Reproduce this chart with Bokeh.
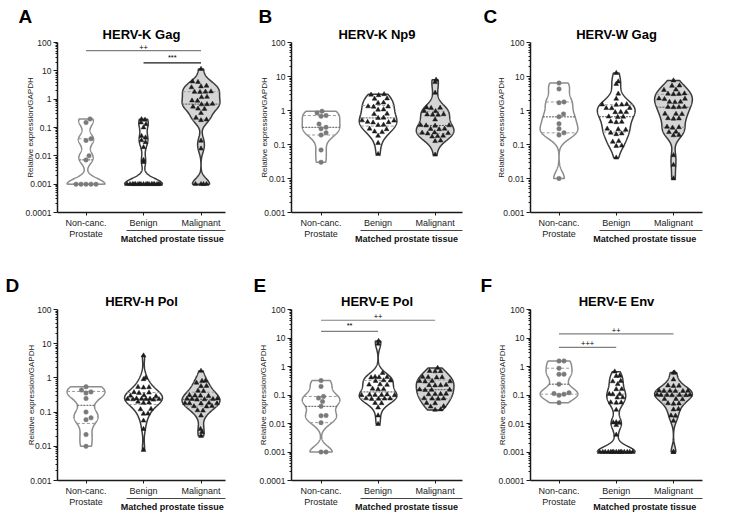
import numpy as np
from bokeh.plotting import figure
from bokeh.layouts import row, column
from bokeh.models import FixedTicker, CustomJSTickFormatter, LinearAxis, Range1d, Title
from bokeh.core.properties import value
from bokeh.embed import file_html
from bokeh.resources import INLINE

# ---------------- data ----------------
categories = ["Non-canc.", "Benign", "Malignant"]
category_second_line = "Prostate"
group_label = "Matched prostate tissue"
y_label = "Relative expression/GAPDH"
y_major_ticks = [1e-4, 1e-3, 1e-2, 1e-1, 1, 10, 100]

titles = ["HERV-K Gag", "HERV-K Np9", "HERV-W Gag", "HERV-H Pol", "HERV-E Pol", "HERV-E Env"]
letters = ["A", "B", "C", "D", "E", "F"]
y_min = [1e-4, 1e-3, 1e-3, 1e-3, 1e-4, 1e-4]

nc_A = [0.20, 0.15, 0.040, 0.035, 0.010, 0.0072, 0.001, 0.001, 0.001, 0.001, 0.001]
be_A = [0.195, 0.186, 0.15, 0.13, 0.10, 0.050, 0.044, 0.035, 0.030, 0.020, 0.0071, 0.006] + [0.001] * 18
ma_A = [11.5, 4.2, 4.0, 2.95, 2.8, 2.6, 1.8, 1.78, 1.82, 1.86, 1.2, 1.17, 0.87, 0.89, 0.66, 0.68,
        0.65, 0.54, 0.45, 0.46, 0.32, 0.22, 0.18, 0.19, 0.034, 0.018, 0.001, 0.001, 0.001, 0.001]

nc_B = [0.85, 0.95, 0.68, 0.71, 0.40, 0.32, 0.29, 0.22, 0.19, 0.069, 0.030]
be_B = [2.9, 3.0, 2.8, 2.25, 2.2, 1.65, 1.7, 1.3, 1.32, 1.28, 1.07, 1.05, 0.80, 0.78, 0.60, 0.61,
        0.50, 0.51, 0.45, 0.44, 0.46, 0.38, 0.37, 0.29, 0.28, 0.23, 0.24, 0.18, 0.11, 0.052]
ma_B = [8.0, 6.8, 3.3, 1.2, 1.22, 1.18, 0.95, 0.96, 0.76, 0.75, 0.77, 0.74, 0.54, 0.37, 0.36, 0.365,
        0.355, 0.29, 0.28, 0.285, 0.22, 0.215, 0.225, 0.21, 0.175, 0.17, 0.18, 0.13, 0.125, 0.050]

nc_C = [6.4, 4.3, 1.7, 1.78, 0.79, 0.65, 0.41, 0.29, 0.22, 0.19, 0.010]
be_C = [12.6, 7.1, 6.0, 3.1, 2.2, 1.48, 1.5, 1.46, 1.52, 1.17, 1.18, 1.16, 0.89, 0.9, 0.88, 0.65,
        0.64, 0.66, 0.46, 0.45, 0.47, 0.28, 0.27, 0.29, 0.21, 0.2, 0.22, 0.12, 0.125, 0.09, 0.092, 0.041]
ma_C = [7.6, 5.4, 5.3, 4.1, 4.0, 3.1, 3.05, 3.15, 3.0, 2.2, 2.15, 2.25, 1.78, 1.8, 1.75, 1.26, 1.25,
        1.27, 1.24, 0.79, 0.8, 0.78, 0.58, 0.57, 0.59, 0.32, 0.33, 0.31, 0.235, 0.23, 0.19, 0.185,
        0.048, 0.025, 0.010]

nc_D = [0.55, 0.44, 0.39, 0.36, 0.25, 0.10, 0.068, 0.060, 0.022, 0.010]
be_D = [4.5, 0.91, 1.0, 0.53, 0.52, 0.54, 0.37, 0.38, 0.36, 0.30, 0.31, 0.29, 0.24, 0.245, 0.235,
        0.24, 0.25, 0.23, 0.238, 0.242, 0.19, 0.2, 0.185, 0.123, 0.12, 0.089, 0.09, 0.056, 0.032, 0.0078]
ma_D = [1.6, 0.72, 0.81, 0.82, 0.58, 0.57, 0.42, 0.41, 0.30, 0.31, 0.295, 0.305, 0.24, 0.245, 0.235,
        0.24, 0.25, 0.23, 0.18, 0.185, 0.182, 0.178, 0.18, 0.148, 0.15, 0.145, 0.11, 0.112, 0.079,
        0.032, 0.026, 0.020]

nc_E = [0.32, 0.20, 0.089, 0.078, 0.059, 0.040, 0.019, 0.0186, 0.0107, 0.001, 0.001]
be_E = [7.8, 6.2, 0.59, 0.42, 0.41, 0.43, 0.415, 0.32, 0.31, 0.325, 0.23, 0.225, 0.235, 0.16, 0.165,
        0.158, 0.10, 0.102, 0.098, 0.104, 0.1, 0.097, 0.074, 0.075, 0.073, 0.072, 0.076, 0.051, 0.052,
        0.036, 0.019, 0.0095]
ma_E = [0.89, 0.68, 0.67, 0.69, 0.42, 0.41, 0.43, 0.415, 0.30, 0.305, 0.295, 0.31, 0.22, 0.218, 0.225,
        0.215, 0.15, 0.152, 0.148, 0.155, 0.107, 0.108, 0.105, 0.11, 0.074, 0.075, 0.073, 0.076, 0.051,
        0.052, 0.040, 0.039, 0.030, 0.031]

nc_F = [1.55, 1.57, 0.87, 0.54, 0.53, 0.24, 0.12, 0.107, 0.112, 0.098, 0.054]
be_F = [0.66, 0.47, 0.46, 0.31, 0.30, 0.24, 0.16, 0.158, 0.107, 0.105, 0.108, 0.081, 0.082, 0.054,
        0.053, 0.055, 0.030, 0.011, 0.0105, 0.0108, 0.0087, 0.0040] + [0.001] * 15
ma_F = [0.60, 0.61, 0.35, 0.21, 0.205, 0.215, 0.138, 0.14, 0.137, 0.142, 0.136, 0.139, 0.10, 0.101,
        0.099, 0.102, 0.098, 0.1, 0.097, 0.071, 0.07, 0.072, 0.05, 0.051, 0.049, 0.032, 0.031, 0.019,
        0.0185, 0.0123, 0.001, 0.001]

# significance bars: (from category, to category, bar value, label)
sig_A = [(0, 2, 52.0, "++"), (1, 2, 19.0, "***")]
sig_B = []
sig_C = []
sig_D = []
sig_E = [(0, 2, 42.0, "++"), (0, 1, 17.0, "**")]
sig_F = [(0, 2, 14.0, "++"), (0, 1, 4.7, "+++")]

panel_groups = [[nc_A, be_A, ma_A], [nc_B, be_B, ma_B], [nc_C, be_C, ma_C],
                [nc_D, be_D, ma_D], [nc_E, be_E, ma_E], [nc_F, be_F, ma_F]]
panel_sigs = [sig_A, sig_B, sig_C, sig_D, sig_E, sig_F]

# ---------------- layout / style ----------------
FONT = "Liberation Sans"
COLS = [dict(w=250, left=57, right=25, x0=-0.496, x1=2.426),
        dict(w=230, left=41, right=18, x0=-0.518, x1=2.48),
        dict(w=272, left=50, right=50, x0=-0.498, x1=2.507)]
ROWS = [dict(h=270, top=42, bottom=58, letter_standoff=-4),
        dict(h=260, top=39, bottom=50, letter_standoff=-8)]
letter_offset = [-39, -33, -47, -52, -38, -50]
title_offset = [-1, 5, -2, 3, 3, -5]
ylab_standoff = [-12, -8, -6, -9, -11, -11]

MAXW = 0.33
BW = 0.2
outline_cols = ["#8c8c8c", "#3a3a3a", "#3a3a3a"]
fill_cols = ["white", "white", "#d5d5d5"]
pt_cols = ["#7a7a7a", "#1c1c1c", "#1c1c1c"]
pt_marker = ["circle", "triangle", "triangle"]
pt_size = [4.5, 4.8, 4.8]


def kde(logv):
    grid = np.linspace(logv.min(), logv.max(), 241)
    d = np.exp(-0.5 * ((grid[:, None] - logv[None, :]) / BW) ** 2).sum(axis=1)
    return grid, d / d.max() * MAXW


def swarm(logv, grid, hw, pxu, pxd, dmin):
    off = np.zeros(len(logv))
    placed = []
    for i in np.argsort(logv, kind="stable"):
        ypx = logv[i] * pxd
        lim = max(np.interp(logv[i], grid, hw) * pxu - 2.0, 0.0)
        k = int(lim / 0.5)
        cands = np.linspace(-k * 0.5, k * 0.5, 2 * k + 1) if k > 0 else np.array([0.0])
        cands = cands[np.argsort(np.abs(cands) + (cands < 0) * 1e-3, kind="stable")]
        if not placed:
            best = 0.0
        else:
            P = np.array(placed)
            dist = np.sqrt((cands[:, None] - P[None, :, 0]) ** 2 + (ypx - P[None, :, 1]) ** 2).min(axis=1)
            ok = np.where(dist >= dmin)[0]
            best = cands[ok[0]] if len(ok) else cands[np.argmax(dist)]
        placed.append((best, ypx))
        off[i] = best / pxu
    return off


def make_panel(k):
    c, r = COLS[k % 3], ROWS[k // 3]
    fw = c["w"] - c["left"] - c["right"]
    fh = r["h"] - r["top"] - r["bottom"]
    ymin = y_min[k]
    p = figure(width=c["w"], height=r["h"], y_axis_type="log", title=letters[k],
               x_range=Range1d(c["x0"], c["x1"]), y_range=Range1d(ymin, 100),
               output_backend="svg", toolbar_location=None,
               min_border_left=c["left"], min_border_right=c["right"],
               min_border_top=r["top"], min_border_bottom=r["bottom"])
    p.outline_line_color = None
    p.grid.visible = False
    p.background_fill_color = "white"

    # panel letter (outermost title) and panel title (next to the frame)
    p.title.align = "left"
    p.title.offset = letter_offset[k]
    p.title.standoff = r["letter_standoff"]
    p.title.text_font = FONT
    p.title.text_font_size = "19px"
    p.title.text_font_style = "bold"
    p.title.text_color = "#000000"
    p.add_layout(Title(text=titles[k], align="center", offset=title_offset[k], standoff=1,
                       text_font=FONT, text_font_size="13px", text_font_style="bold",
                       text_color="#000000"), "above")

    # y axis
    ya = p.yaxis[0]
    minors = [m * 10.0 ** e for e in range(int(round(np.log10(ymin))), 2) for m in range(2, 10)]
    ya.ticker = FixedTicker(ticks=[t for t in y_major_ticks if t >= ymin], minor_ticks=minors)
    ya.formatter = CustomJSTickFormatter(code="return String(parseFloat(tick.toPrecision(6)))")
    ya.axis_label = y_label
    ya.axis_label_text_font = FONT
    ya.axis_label_text_font_size = "8px"
    ya.axis_label_text_font_style = "normal"
    ya.axis_label_text_color = "#222222"
    ya.axis_label_standoff = ylab_standoff[k]
    ya.major_label_text_font = FONT
    ya.major_label_text_font_size = "8.5px"
    ya.major_label_text_color = "#222222"
    ya.major_label_standoff = 2
    ya.axis_line_width = 1.5
    ya.axis_line_color = "#1a1a1a"
    ya.major_tick_line_color = "#1a1a1a"
    ya.major_tick_out = 4
    ya.major_tick_in = 0
    ya.minor_tick_line_color = "#1a1a1a"
    ya.minor_tick_out = 2
    ya.minor_tick_in = 0

    # x axis (categories)
    xa = p.xaxis[0]
    xa.ticker = FixedTicker(ticks=[0, 1, 2])
    xa.major_label_overrides = {i: cat for i, cat in enumerate(categories)}
    xa.major_label_text_font = FONT
    xa.major_label_text_font_size = "9px"
    xa.major_label_text_color = "#222222"
    xa.major_label_standoff = 2
    xa.axis_line_width = 1.5
    xa.axis_line_color = "#1a1a1a"
    xa.major_tick_line_color = "#1a1a1a"
    xa.major_tick_out = 3
    xa.major_tick_in = 0
    xa.minor_tick_line_color = None

    # group bracket line + group label
    xa2 = LinearAxis(ticker=FixedTicker(ticks=[1.5]), bounds=(0.7, c["x1"]),
                     major_label_overrides={1.5: group_label},
                     axis_line_color="#444444", axis_line_width=1,
                     major_tick_line_color=None, minor_tick_line_color=None,
                     major_label_standoff=-3, major_label_text_font=FONT,
                     major_label_text_font_size="9px", major_label_text_font_style="bold",
                     major_label_text_color="#111111")
    p.add_layout(xa2, "below")
    # second line of the first category label
    xa3 = LinearAxis(ticker=FixedTicker(ticks=[0]), major_label_overrides={0: category_second_line},
                     axis_line_color=None, major_tick_line_color=None, minor_tick_line_color=None,
                     major_label_standoff=-24, major_label_text_font=FONT,
                     major_label_text_font_size="9px", major_label_text_color="#222222")
    p.add_layout(xa3, "below")

    pxu = fw / (c["x1"] - c["x0"])
    pxd = fh / (2 - np.log10(ymin))

    for g, vals in enumerate(panel_groups[k]):
        logv = np.log10(np.asarray(vals, dtype=float))
        grid, hw = kde(logv)
        xs = np.concatenate([g + hw, (g - hw)[::-1]])
        ys = 10 ** np.concatenate([grid, grid[::-1]])
        p.patch(xs, ys, fill_color=fill_cols[g], line_color=outline_cols[g], line_width=1.5)
        q1, med, q3 = np.percentile(logv, [25, 50, 75], method="weibull")
        for q, col, dash in [(q1, "#9a9a9a", "3 2"), (q3, "#9a9a9a", "3 2"), (med, "#555555", "2 1")]:
            w = np.interp(q, grid, hw)
            p.segment(x0=[g - w], x1=[g + w], y0=[10 ** q], y1=[10 ** q],
                      line_color=col, line_width=1, line_dash=dash)
        off = swarm(logv, grid, hw, pxu, pxd, pt_size[g] + 0.5)
        p.scatter(g + off, 10 ** logv, marker=pt_marker[g], size=pt_size[g],
                  fill_color=pt_cols[g], line_color=pt_cols[g], line_width=0.5)

    for (i, j, yv, lab) in panel_sigs[k]:
        col = "#808080" if i == 0 else "#1a1a1a"
        p.segment(x0=[i], x1=[j], y0=[yv], y1=[yv], line_color=col, line_width=1.2)
        p.text(x=[(i + j) / 2], y=[yv], text=[lab], text_font=value(FONT), text_font_size="7.5px",
               text_align="center", text_baseline="bottom", y_offset=-1, text_color="#000000")
    return p


figs = [make_panel(k) for k in range(6)]
layout = column(row(*figs[:3]), row(*figs[3:]))
open("out.html", "w").write(file_html(layout, INLINE))
